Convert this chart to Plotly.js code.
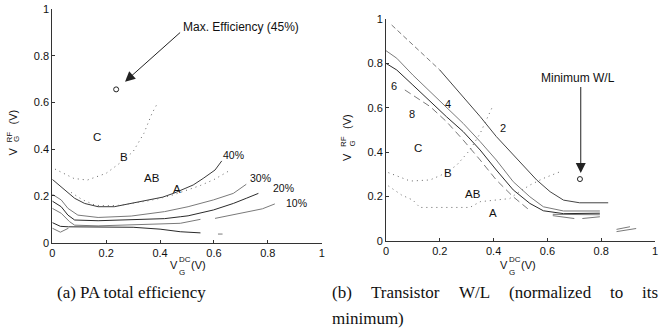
<!DOCTYPE html>
<html><head><meta charset="utf-8">
<script src="https://cdn.plot.ly/plotly-3.0.1.min.js"></script>
<style>html,body{margin:0;padding:0;background:#fff}#chart{width:661px;height:335px}</style>
</head><body><div id="chart"></div>
<script>
// ---------- shared ticks ----------
const tickVals = [0, 0.2, 0.4, 0.6, 0.8, 1];
const tickLabels = ['0', '0.2', '0.4', '0.6', '0.8', '1'];

// ---------- (a) PA total efficiency contours ----------
const eff40X = [0, 0.04, 0.083, 0.12, 0.17, 0.23, 0.293, 0.355, 0.41, 0.454, 0.5, 0.523, 0.56, 0.604, 0.629];
const eff40Y = [0.271, 0.233, 0.19, 0.168, 0.154, 0.154, 0.168, 0.18, 0.195, 0.213, 0.235, 0.247, 0.275, 0.311, 0.35];
const eff30X = [0, 0.033, 0.058, 0.095, 0.17, 0.293, 0.417, 0.475, 0.504, 0.598, 0.672, 0.72];
const eff30Y = [0.207, 0.183, 0.147, 0.118, 0.108, 0.114, 0.133, 0.147, 0.154, 0.183, 0.211, 0.25];
const eff20X = [0, 0.033, 0.058, 0.083, 0.17, 0.293, 0.417, 0.475, 0.504, 0.598, 0.672, 0.72, 0.765];
const eff20Y = [0.178, 0.154, 0.118, 0.097, 0.094, 0.097, 0.103, 0.111, 0.115, 0.14, 0.168, 0.19, 0.211];
const eff10aX = [0, 0.033, 0.064, 0.083, 0.17, 0.293, 0.417, 0.475, 0.55];
const eff10aY = [0.147, 0.126, 0.09, 0.075, 0.072, 0.076, 0.08, 0.083, 0.1];
const eff10bX = [0.604, 0.7, 0.78, 0.826];
const eff10bY = [0.104, 0.125, 0.145, 0.166];
const effLow1X = [0, 0.03, 0.06, 0.1, 0.2, 0.3, 0.4, 0.475, 0.55];
const effLow1Y = [0.086, 0.07, 0.068, 0.068, 0.068, 0.066, 0.058, 0.047, 0.042];
const effLow2X = [0, 0.03, 0.06];
const effLow2Y = [0.062, 0.045, 0.062];
const effDashX = [0.615, 0.632];
const effDashY = [0.037, 0.037];
// class boundaries (dotted)
const aBndCX = [0.01, 0.08, 0.13, 0.2, 0.25, 0.3, 0.34, 0.37, 0.39];
const aBndCY = [0.315, 0.275, 0.268, 0.297, 0.34, 0.39, 0.468, 0.553, 0.596];
const aBndAX = [0.07, 0.11, 0.16, 0.2, 0.25, 0.3, 0.35, 0.4, 0.45, 0.5, 0.55, 0.6, 0.66];
const aBndAY = [0.215, 0.185, 0.16, 0.158, 0.16, 0.168, 0.178, 0.19, 0.205, 0.225, 0.245, 0.27, 0.31];
const aMaxX = [0.237];
const aMaxY = [0.656];
const aLevelLabels = ['40%', '30%', '20%', '10%'];
const aLevelLabelX = [0.672, 0.771, 0.857, 0.905];
const aLevelLabelY = [0.375, 0.275, 0.233, 0.171];
const classLabels = ['C', 'B', 'AB', 'A'];
const aClassX = [0.165, 0.266, 0.369, 0.462];
const aClassY = [0.453, 0.365, 0.278, 0.231];

// ---------- (b) Transistor W/L contours ----------
const wl2DashX = [0.021, 0.2];
const wl2DashY = [0.973, 0.77];
const wl2X = [0.2, 0.287, 0.35, 0.41, 0.486, 0.56, 0.61, 0.66, 0.72, 0.826];
const wl2Y = [0.77, 0.65, 0.56, 0.47, 0.371, 0.274, 0.221, 0.183, 0.171, 0.171];
const wl4X = [0, 0.04, 0.1, 0.164, 0.225, 0.287, 0.35, 0.41, 0.473, 0.535, 0.585, 0.66, 0.795];
const wl4Y = [0.857, 0.823, 0.747, 0.672, 0.597, 0.529, 0.447, 0.364, 0.266, 0.198, 0.153, 0.134, 0.134];
const wl6X = [0, 0.04, 0.1, 0.164, 0.225, 0.287, 0.35, 0.41, 0.473, 0.535, 0.585, 0.66, 0.795];
const wl6Y = [0.8, 0.77, 0.702, 0.627, 0.559, 0.492, 0.409, 0.319, 0.229, 0.168, 0.135, 0.122, 0.124];
const wl8X = [0.07, 0.164, 0.225, 0.287, 0.35, 0.41, 0.473, 0.53];
const wl8Y = [0.68, 0.605, 0.537, 0.454, 0.364, 0.274, 0.198, 0.141];
const wlExtra1X = [0.62, 0.66, 0.7];
const wlExtra1Y = [0.113, 0.107, 0.1];
const wlExtra2X = [0.73, 0.795];
const wlExtra2Y = [0.1, 0.108];
const wlExtra3X = [0.62, 0.795];
const wlExtra3Y = [0.119, 0.117];
const wlExtra4X = [0.857, 0.907];
const wlExtra4Y = [0.051, 0.063];
const wlExtra5X = [0.857, 0.93];
const wlExtra5Y = [0.041, 0.055];
const bBndCX = [0.009, 0.09, 0.164, 0.22, 0.263, 0.312, 0.35, 0.374, 0.393];
const bBndCY = [0.307, 0.269, 0.274, 0.304, 0.341, 0.409, 0.484, 0.544, 0.597];
const bBndAX = [0.009, 0.058, 0.1, 0.126, 0.2, 0.312, 0.35, 0.41, 0.46, 0.486, 0.535, 0.585, 0.647];
const bBndAY = [0.247, 0.206, 0.183, 0.15, 0.15, 0.15, 0.176, 0.183, 0.19, 0.213, 0.251, 0.281, 0.311];
const bMinX = [0.721];
const bMinY = [0.278];
const bLevelLabels = ['2', '4', '6', '8'];
const bLevelLabelX = [0.436, 0.232, 0.031, 0.095];
const bLevelLabelY = [0.507, 0.615, 0.698, 0.571];
const bClassX = [0.12, 0.232, 0.325, 0.397];
const bClassY = [0.417, 0.304, 0.209, 0.123];

// ---------- build ----------
const SANS = 'Liberation Sans, Arial, sans-serif';
const SERIF = 'Liberation Serif, Times New Roman, serif';
const DARK = '#2a2a2a', GRAY = '#7a7a7a';
const DOT = '1px,4px';
const W = 661, H = 335;
function ln(x, y, color, ax, dash) {
  return {x: x, y: y, type: 'scatter', mode: 'lines', xaxis: ax[0], yaxis: ax[1],
    line: {color: color, width: 1, dash: dash || 'solid'}, hoverinfo: 'skip', showlegend: false};
}
const A = ['x', 'y'], B = ['x2', 'y2'];
const data = [
  ln(eff40X, eff40Y, '#3a3a3a', A), ln(eff30X, eff30Y, GRAY, A), ln(eff20X, eff20Y, DARK, A),
  ln(eff10aX, eff10aY, GRAY, A), ln(eff10bX, eff10bY, GRAY, A), ln(effLow1X, effLow1Y, DARK, A),
  ln(effLow2X, effLow2Y, GRAY, A), ln(effDashX, effDashY, GRAY, A),
  ln(aBndCX, aBndCY, '#666', A, DOT), ln(aBndAX, aBndAY, '#666', A, DOT),
  {x: aMaxX, y: aMaxY, type: 'scatter', mode: 'markers', xaxis: 'x', yaxis: 'y', showlegend: false,
   marker: {symbol: 'circle-open', size: 5, color: '#222', line: {width: 1, color: '#222'}}},
  ln(wl2DashX, wl2DashY, GRAY, B, '5px,3px'), ln(wl2X, wl2Y, '#444', B), ln(wl4X, wl4Y, GRAY, B),
  ln(wl6X, wl6Y, DARK, B), ln(wl8X, wl8Y, GRAY, B, '7px,4px'),
  ln(wlExtra1X, wlExtra1Y, GRAY, B), ln(wlExtra2X, wlExtra2Y, GRAY, B), ln(wlExtra3X, wlExtra3Y, GRAY, B),
  ln(wlExtra4X, wlExtra4Y, GRAY, B), ln(wlExtra5X, wlExtra5Y, GRAY, B),
  ln(bBndCX, bBndCY, '#666', B, DOT), ln(bBndAX, bBndAY, '#666', B, DOT),
  {x: bMinX, y: bMinY, type: 'scatter', mode: 'markers', xaxis: 'x2', yaxis: 'y2', showlegend: false,
   marker: {symbol: 'circle-open', size: 5, color: '#222', line: {width: 1, color: '#222'}}}
];

function axis(domain, anchor) {
  return {domain: domain, anchor: anchor, range: [0, 1], tickvals: tickVals, ticktext: tickLabels,
    showgrid: false, zeroline: false, showline: true, linecolor: '#333', linewidth: 1,
    ticks: 'inside', ticklen: 3, tickcolor: '#333', fixedrange: true,
    tickfont: {family: SANS, size: 11, color: '#111'}};
}
const annotations = [];
function txt(x, y, text, xref, yref, size, extra) {
  annotations.push(Object.assign({x: x, y: y, xref: xref, yref: yref, text: text, showarrow: false,
    font: {family: SANS, size: size, color: '#111'}}, extra || {}));
}
// pixel-positioned paper text
function ptxt(px, py, text, size, extra, family) {
  annotations.push(Object.assign({x: px / W, y: (H - py) / H, xref: 'paper', yref: 'paper', text: text,
    showarrow: false, xanchor: 'center', yanchor: 'middle',
    font: {family: family || SANS, size: size, color: '#111'}}, extra || {}));
}
aLevelLabels.forEach((t, i) => txt(aLevelLabelX[i], aLevelLabelY[i], t, 'x', 'y', 10.5));
classLabels.forEach((t, i) => txt(aClassX[i], aClassY[i], t, 'x', 'y', 11.5));
bLevelLabels.forEach((t, i) => txt(bLevelLabelX[i], bLevelLabelY[i], t, 'x2', 'y2', 11));
classLabels.forEach((t, i) => txt(bClassX[i], bClassY[i], t, 'x2', 'y2', 11.5));
txt(0.7, 0.922, 'Max. Efficiency (45%)', 'x', 'y', 12);
txt(0.715, 0.732, 'Minimum W/L', 'x2', 'y2', 12);
annotations.push({x: 0.27, y: 0.689, ax: 0.48, ay: 0.905, xref: 'x', yref: 'y', axref: 'x', ayref: 'y',
  text: '', showarrow: true, arrowhead: 2, arrowsize: 2, arrowwidth: 1, arrowcolor: '#222'});
annotations.push({x: 0.724, y: 0.305, ax: 0.724, ay: 0.7, xref: 'x2', yref: 'y2', axref: 'x2', ayref: 'y2',
  text: '', showarrow: true, arrowhead: 2, arrowsize: 2, arrowwidth: 1, arrowcolor: '#222'});

// axis titles with stacked super/subscripts
function xTitle(left) {
  ptxt(left, 265, 'V', 11, {xanchor: 'left'});
  ptxt(left + 9, 259, 'DC', 8, {xanchor: 'left'});
  ptxt(left + 9, 272, 'G', 8, {xanchor: 'left'});
  ptxt(left + 21, 265, '(V)', 11, {xanchor: 'left'});
}
xTitle(168);
xTitle(498);
function yTitle(cx, vy) {
  ptxt(cx, vy, 'V', 11, {textangle: -90});
  ptxt(cx - 4, vy - 15, 'RF', 8, {textangle: -90});
  ptxt(cx + 4.5, vy - 13, 'G', 8, {textangle: -90});
  ptxt(cx, vy - 35, '(V)', 11, {textangle: -90});
}
yTitle(12.5, 152);
yTitle(347, 157);

// captions
ptxt(55, 292, '(a) PA total efficiency', 17, {xanchor: 'left'}, SERIF);
const capWords = ['(b)', 'Transistor', 'W/L', '(normalized', 'to', 'its'];
const capWordX = [330, 369, 457, 507, 608, 640];
capWords.forEach((w, i) => ptxt(capWordX[i], 292, w, 17, {xanchor: 'left'}, SERIF));
ptxt(330, 318, 'minimum)', 17, {xanchor: 'left'}, SERIF);

const layout = {
  width: W, height: H, margin: {l: 0, r: 0, t: 0, b: 0}, paper_bgcolor: '#fff', plot_bgcolor: '#fff',
  showlegend: false,
  xaxis: axis([52.3 / W, 321.7 / W], 'y'),
  yaxis: axis([(H - 242.7) / H, (H - 9) / H], 'x'),
  xaxis2: axis([386 / W, 655 / W], 'y2'),
  yaxis2: axis([(H - 240.7) / H, (H - 19) / H], 'x2'),
  annotations: annotations
};
Plotly.newPlot('chart', data, layout, {staticPlot: true, displayModeBar: false});
</script></body></html>
